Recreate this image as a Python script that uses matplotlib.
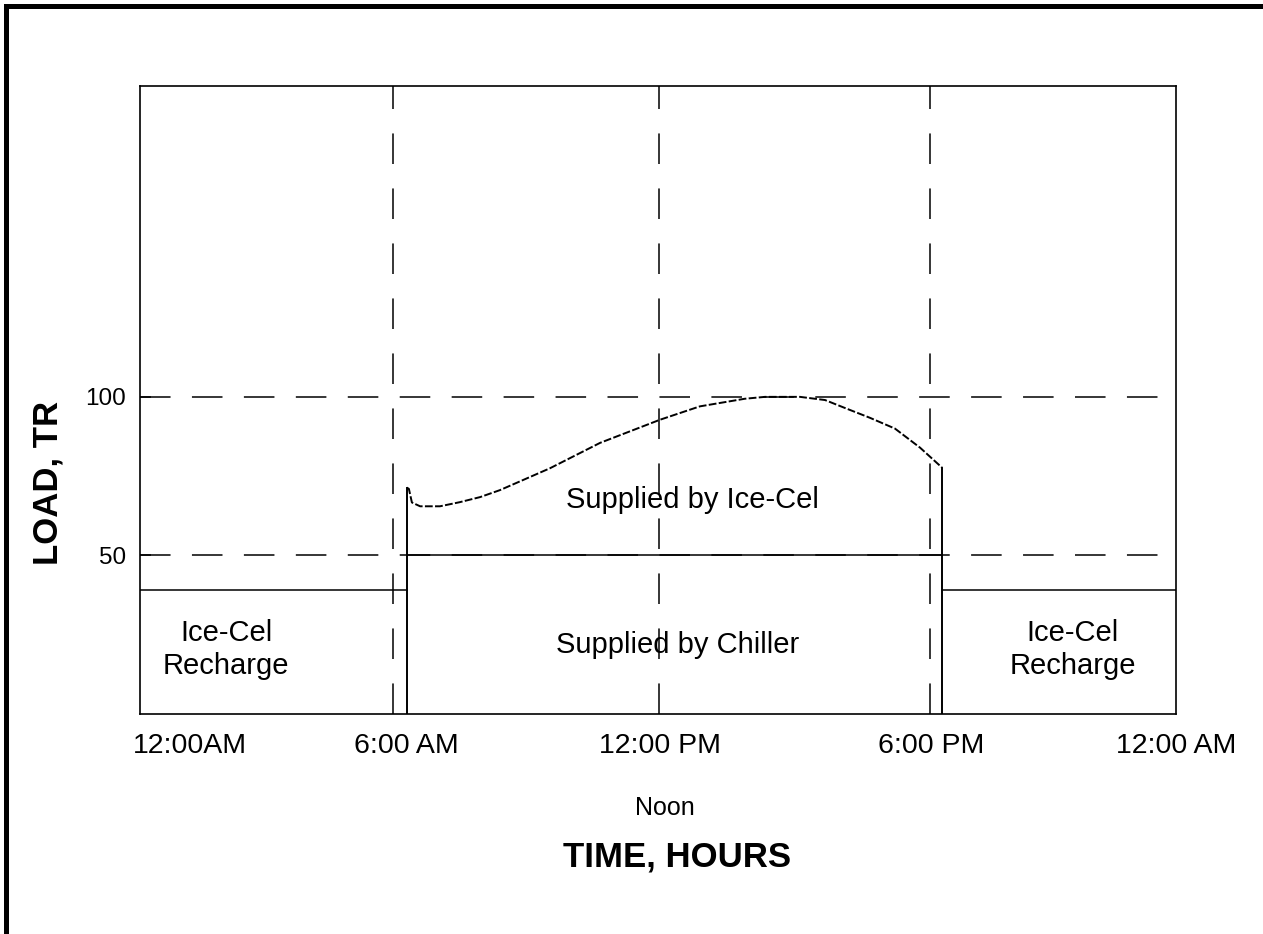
import matplotlib.pyplot as plt
from matplotlib.lines import Line2D

plt.rcParams['font.family'] = ['Liberation Sans', 'DejaVu Sans']

# load curve (hours, TR)
load_hours = [6.18, 6.23, 6.30, 6.49, 6.95, 7.41, 7.88, 8.34, 9.50, 10.66,
              12.05, 12.97, 14.01, 14.48, 15.29, 15.87, 16.33, 16.91, 17.49,
              18.07, 18.58]
load_tr = [71.4, 71.0, 66.7, 65.5, 65.5, 66.8, 68.4, 70.6, 77.5, 85.5,
           92.8, 97.0, 99.4, 100.0, 100.0, 99.0, 96.5, 93.4, 90.0,
           84.0, 77.7]

chiller_tr = 50
recharge_tr = 39
day_start = 6.18
day_end = 18.58

ref_levels = [50, 100]
ref_times = [5.86, 12.02, 18.3]

tick_pos = [1.16, 6.18, 12.05, 18.34, 24.0]
tick_labels = ["12:00AM", "6:00 AM", "12:00 PM", "6:00 PM", "12:00 AM"]

fig = plt.figure(figsize=(12.63, 9.34), dpi=100)
ax = fig.add_axes([0.1108, 0.2355, 0.8203, 0.6724])

# dashed reference lines
for lv in ref_levels:
    ax.axhline(lv, color='black', lw=1.1, linestyle=(0, (20, 14)))
for tm in ref_times:
    ax.axvline(tm, color='black', lw=1.1, linestyle=(0, (20, 16)))

# recharge blocks
ax.plot([0, day_start], [recharge_tr, recharge_tr], color='black', lw=1.1)
ax.plot([day_end, 24], [recharge_tr, recharge_tr], color='black', lw=1.1)
# chiller level
ax.plot([day_start, day_end], [chiller_tr, chiller_tr], color='black', lw=1.1)
# step edges
ax.plot([day_start, day_start], [0, load_tr[0]], color='black', lw=1.4)
ax.plot([day_end, day_end], [0, load_tr[-1]], color='black', lw=1.4)
# load curve
ax.plot(load_hours, load_tr, color='black', lw=1.4, linestyle=(0, (4, 1.2)))

ax.text(12.8, 67.6, "Supplied by Ice-Cel", ha='center', va='center', fontsize=21)
ax.text(12.45, 21.7, "Supplied by Chiller", ha='center', va='center', fontsize=21)
ax.text(2.0, 20.4, "Ice-Cel\nRecharge", ha='center', va='center', fontsize=21,
        linespacing=1.25)
ax.text(21.6, 20.4, "Ice-Cel\nRecharge", ha='center', va='center', fontsize=21,
        linespacing=1.25)

ax.set_xlim(0, 24)
ax.set_ylim(0, 198)
ax.set_xticks(tick_pos)
ax.set_xticklabels(tick_labels, fontsize=20.5)
ax.tick_params(axis='x', length=0, pad=14)
ax.set_yticks(ref_levels)
ax.set_yticklabels([str(v) for v in ref_levels], fontsize=17.5)
ax.tick_params(axis='y', direction='in', length=8, width=1.1, pad=10)
for sp in ax.spines.values():
    sp.set_linewidth(1.2)

fig.text(48 / 1263, 1 - 483 / 934, "LOAD, TR", rotation=90, ha='center',
         va='center', fontsize=25, fontweight='bold')
fig.text(665 / 1263, 1 - 808 / 934, "Noon", ha='center', va='center', fontsize=18)
fig.text(677 / 1263, 1 - 857 / 934, "TIME, HOURS", ha='center', va='center',
         fontsize=25, fontweight='bold')

# page border (top and left)
fig.add_artist(Line2D([0.0048, 1.0], [0.9936, 0.9936], color='black', lw=3.6,
                      transform=fig.transFigure))
fig.add_artist(Line2D([0.0048, 0.0048], [0.0, 0.9936], color='black', lw=3.6,
                      transform=fig.transFigure))

fig.savefig("out.png", dpi=100)
